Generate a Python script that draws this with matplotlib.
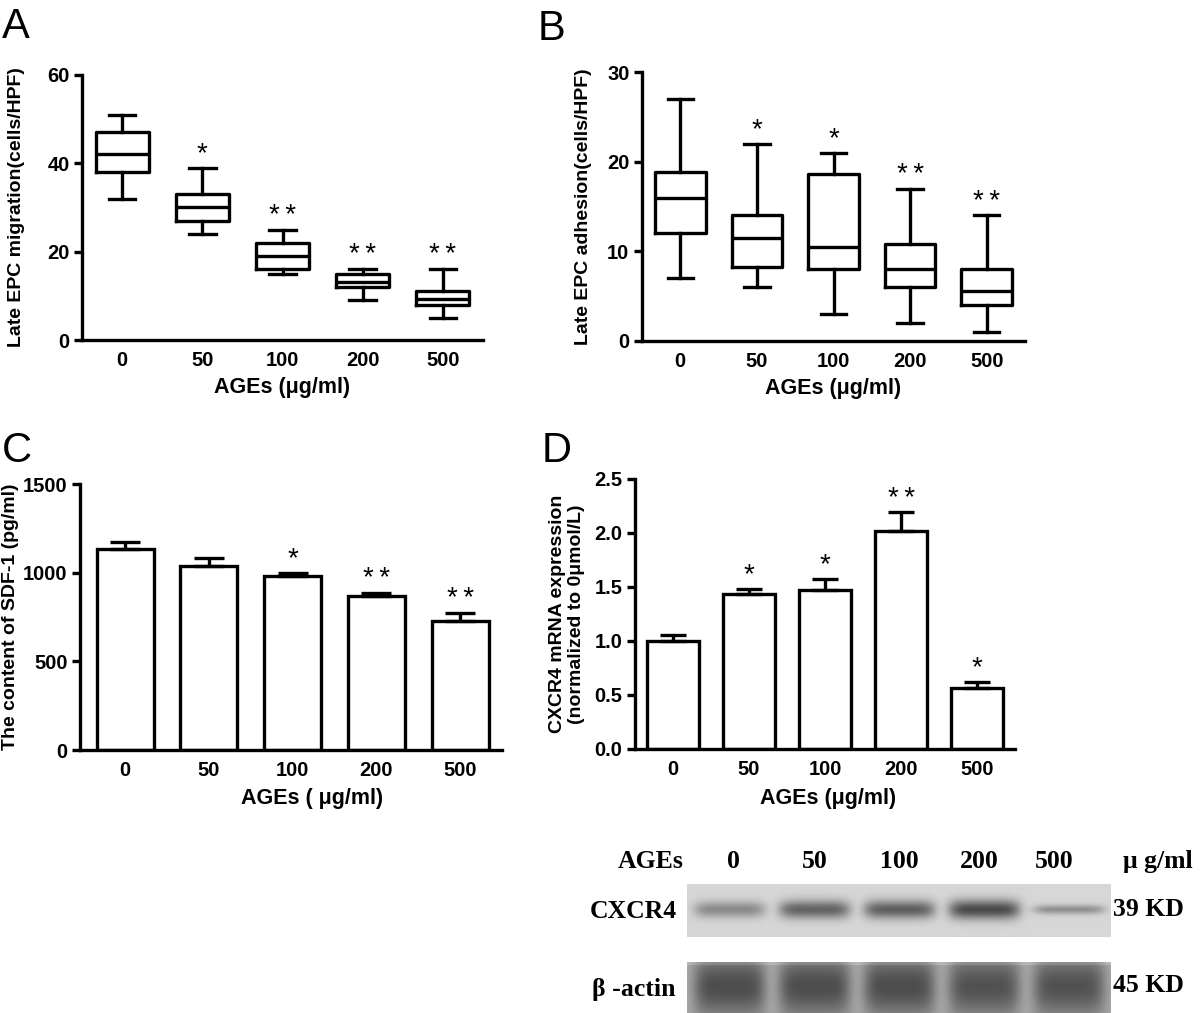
import numpy as np
import matplotlib.pyplot as plt

plt.rcParams['font.family'] = ['Liberation Sans', 'DejaVu Sans']
plt.rcParams['font.weight'] = 'bold'
plt.rcParams['axes.labelweight'] = 'bold'

doses = ['0', '50', '100', '200', '500']

# panel A - migration box plot (whislo, q1, med, q3, whishi)
mig_lo = [32, 24, 15, 9, 5]
mig_q1 = [38, 27, 16, 12, 8]
mig_med = [42, 30, 19, 13.2, 9.2]
mig_q3 = [47, 33, 22, 15, 11]
mig_hi = [51, 39, 25, 16, 16]
mig_sig = ['', '*', '**', '**', '**']

# panel B - adhesion box plot
adh_lo = [7, 6, 3, 2, 1]
adh_q1 = [12, 8.2, 8, 6, 4]
adh_med = [16, 11.5, 10.5, 8, 5.6]
adh_q3 = [18.8, 14, 18.6, 10.8, 8]
adh_hi = [27, 22, 21, 17, 14]
adh_sig = ['', '*', '*', '**', '**']

# panel C - SDF-1 content
sdf_mean = [1133, 1039, 981, 870, 727]
sdf_err = [42, 42, 15, 17, 47]
sdf_sig = ['', '', '*', '**', '**']

# panel D - CXCR4 mRNA
mrna_mean = [1.0, 1.435, 1.47, 2.02, 0.565]
mrna_err = [0.06, 0.045, 0.1, 0.17, 0.055]
mrna_sig = ['', '*', '*', '**', '*']

# western blot band darkness per lane
cxcr4_band = [0.3, 0.45, 0.47, 0.55, 0.28]
cxcr4_thick = [8, 9, 9, 9.5, 4.5]
actin_band = [0.36, 0.36, 0.36, 0.34, 0.34]

W, H = 1200, 1013
fig = plt.figure(figsize=(W / 100, H / 100), dpi=100)


def px_axes(l, r, t, b):
    return fig.add_axes([l / W, 1 - b / H, (r - l) / W, (b - t) / H])


def style(ax):
    for s in ['top', 'right']:
        ax.spines[s].set_visible(False)
    for s in ['left', 'bottom']:
        ax.spines[s].set_linewidth(2.4)
    ax.tick_params(axis='y', direction='out', length=6, width=2.4, labelsize=14.5, pad=3)
    ax.tick_params(axis='x', length=0, labelsize=14.5, pad=8)
    ax.set_xlim(-0.5, 4.5)


def stars(ax, xs, ys, sig):
    for x, y, s in zip(xs, ys, sig):
        if s:
            ax.annotate(s.replace('**', '*\u2009*'), (x, y), xytext=(0, 10), textcoords='offset points',
                        ha='center', va='center', fontsize=20, fontweight='normal')


def boxpanel(ax, lo, q1, med, q3, hi):
    stats = []
    for i in range(5):
        stats.append(dict(whislo=lo[i], q1=q1[i], med=med[i], q3=q3[i], whishi=hi[i], fliers=[]))
    lp = dict(color='black', linewidth=2.4)
    ax.bxp(stats, positions=range(5), widths=0.66, showfliers=False,
           boxprops=lp, medianprops=lp, whiskerprops=lp, capprops=lp)
    ax.set_xticks(range(5))
    ax.set_xticklabels(doses)


# A
axA = px_axes(82, 483, 75, 340)
boxpanel(axA, mig_lo, mig_q1, mig_med, mig_q3, mig_hi)
style(axA)
axA.set_ylim(0, 60)
axA.set_yticks([0, 20, 40, 60])
stars(axA, range(5), mig_hi, mig_sig)
axA.set_ylabel('Late EPC migration(cells/HPF)', fontsize=14)
axA.yaxis.set_label_coords(-0.142, 0.5)
axA.set_xlabel('AGEs (μg/ml)', fontsize=15.5)
axA.xaxis.set_label_coords(0.5, -0.14)

# B
axB = px_axes(642, 1025, 72, 341)
boxpanel(axB, adh_lo, adh_q1, adh_med, adh_q3, adh_hi)
style(axB)
axB.set_ylim(0, 30)
axB.set_yticks([0, 10, 20, 30])
stars(axB, range(5), adh_hi, adh_sig)
axB.set_ylabel('Late EPC adhesion(cells/HPF)', fontsize=14)
axB.yaxis.set_label_coords(-0.131, 0.5)
axB.set_xlabel('AGEs (μg/ml)', fontsize=15.5)
axB.xaxis.set_label_coords(0.5, -0.138)

# C
axC = px_axes(80, 502, 484, 750)
axC.bar(range(5), sdf_mean, width=0.68, color='white', edgecolor='black', linewidth=2.4)
axC.errorbar(range(5), sdf_mean, yerr=[[0] * 5, sdf_err], fmt='none', ecolor='black',
             elinewidth=2.4, capsize=10.5, capthick=2.4)
style(axC)
axC.set_xlim(-0.54, 4.5)
axC.set_ylim(0, 1500)
axC.set_yticks([0, 500, 1000, 1500])
axC.set_xticks(range(5))
axC.set_xticklabels(doses)
stars(axC, range(5), np.array(sdf_mean) + np.array(sdf_err), sdf_sig)
axC.set_ylabel('The content of SDF-1 (pg/ml)', fontsize=14)
axC.yaxis.set_label_coords(-0.145, 0.5)
axC.set_xlabel('AGEs ( μg/ml)', fontsize=15.5)
axC.xaxis.set_label_coords(0.55, -0.143)

# D
axD = px_axes(635, 1015, 479, 749)
axD.bar(range(5), mrna_mean, width=0.68, color='white', edgecolor='black', linewidth=2.4)
axD.errorbar(range(5), mrna_mean, yerr=[[0] * 5, mrna_err], fmt='none', ecolor='black',
             elinewidth=2.4, capsize=9.5, capthick=2.4)
style(axD)
axD.set_ylim(0, 2.5)
axD.set_yticks([0, 0.5, 1.0, 1.5, 2.0, 2.5])
axD.set_yticklabels(['0.0', '0.5', '1.0', '1.5', '2.0', '2.5'])
axD.set_xticks(range(5))
axD.set_xticklabels(doses)
stars(axD, range(5), np.array(mrna_mean) + np.array(mrna_err), mrna_sig)
axD.set_ylabel('CXCR4 mRNA expression\n(normalized to 0μmol/L)', fontsize=14, linespacing=1.15)
axD.yaxis.set_label_coords(-0.132, 0.5)
axD.set_xlabel('AGEs (μg/ml)', fontsize=15.5)
axD.xaxis.set_label_coords(0.508, -0.144)

# panel letters
for lab, x, y in [('A', 2, 38), ('B', 538, 40), ('C', 2, 462), ('D', 542, 462)]:
    fig.text(x / W, 1 - y / H, lab, fontsize=30, fontweight='normal', ha='left', va='baseline')


# western blot strips
def strip(darkness, thick, bg, nrows, ncols=424):
    yy, xx = np.mgrid[0:nrows, 0:ncols]
    img = np.full((nrows, ncols), bg, dtype=float)
    lane_w = ncols / 5
    for i, d in enumerate(darkness):
        cx = (i + 0.5) * lane_w
        hx = np.exp(-((xx - cx) / (lane_w * 0.42)) ** 6)
        vy = np.exp(-((yy - nrows / 2 + 1) / thick[i]) ** 2)
        img -= d * hx * vy
    return img


blot1 = strip(cxcr4_band, cxcr4_thick, 0.84, 53)
blot2 = strip(actin_band, [30] * 5, 0.66, 51)
blot2[:4] += 0.08
for img, t, b in [(blot1, 884, 937), (blot2, 962, 1013)]:
    axb = px_axes(687, 1111, t, b)
    axb.imshow(img, cmap='gray', vmin=0, vmax=1, aspect='auto', interpolation='bilinear')
    axb.axis('off')

serif = dict(family=['Liberation Serif', 'DejaVu Serif'], fontweight='bold', fontsize=18.5)
fig.text(684 / W, 1 - 861 / H, 'AGEs', ha='right', va='center', **serif)
for xc, d in zip([733, 815, 899, 979, 1054], doses):
    fig.text(xc / W, 1 - 861 / H, d, ha='center', va='center', **serif)
fig.text(1123 / W, 1 - 861 / H, 'μ g/ml', ha='left', va='center', **serif)
fig.text(677 / W, 1 - 911 / H, 'CXCR4', ha='right', va='center', **serif)
fig.text(676 / W, 1 - 989 / H, 'β -actin', ha='right', va='center', **serif)
fig.text(1113 / W, 1 - 909 / H, '39 KD', ha='left', va='center', **serif)
fig.text(1113 / W, 1 - 985 / H, '45 KD', ha='left', va='center', **serif)

fig.savefig('out.png', dpi=100)
